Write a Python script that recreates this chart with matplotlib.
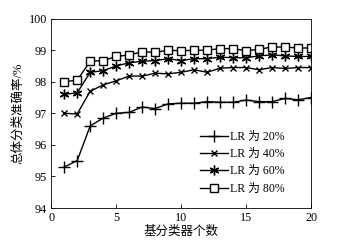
import matplotlib
matplotlib.use("Agg")
import matplotlib.pyplot as plt

plt.rcParams['font.family'] = ['Liberation Serif', 'Noto Sans CJK SC']

x = list(range(1, 21))
lr20 = [95.3, 95.5, 96.6, 96.85, 97.0, 97.03, 97.2, 97.15, 97.3, 97.32,
        97.32, 97.37, 97.35, 97.35, 97.42, 97.37, 97.37, 97.47, 97.43, 97.5]
lr40 = [97.0, 96.98, 97.7, 97.9, 98.03, 98.18, 98.18, 98.27, 98.25, 98.3,
        98.38, 98.3, 98.43, 98.45, 98.45, 98.38, 98.45, 98.42, 98.45, 98.45]
lr60 = [97.6, 97.65, 98.3, 98.35, 98.5, 98.6, 98.65, 98.67, 98.73, 98.67,
        98.73, 98.73, 98.78, 98.76, 98.76, 98.82, 98.85, 98.82, 98.8, 98.8]
lr80 = [98.0, 98.05, 98.65, 98.67, 98.8, 98.85, 98.95, 98.93, 99.0, 98.98,
        99.0, 99.0, 99.05, 99.05, 98.98, 99.03, 99.1, 99.1, 99.07, 99.07]
labels = ['LR 为 20%', 'LR 为 40%', 'LR 为 60%', 'LR 为 80%']
xticks = [0, 5, 10, 15, 20]
yticks = [94, 95, 96, 97, 98, 99, 100]

fig = plt.figure(figsize=(3.37, 2.45), dpi=100)
ax = fig.add_axes([0.152, 0.151, 0.771, 0.773])

ax.plot(x, lr20, color='black', lw=1.0, marker='+', ms=8, mew=1.0, label=labels[0])
ax.plot(x, lr40, color='black', lw=1.0, marker='x', ms=5, mew=1.0, label=labels[1])
ax.plot(x, lr60, color='black', lw=1.0, marker=(6, 2, 0), ms=7, mew=1.0, label=labels[2])
ax.plot(x, lr80, color='black', lw=1.0, marker='s', ms=6, mew=1.0, mfc='white', label=labels[3])

ax.set_xlim(0, 20)
ax.set_ylim(94, 100)
ax.set_xticks(xticks)
ax.set_yticks(yticks)
ax.tick_params(direction='in', labelsize=8.7, length=3, width=0.6, pad=3)
for s in ax.spines.values():
    s.set_linewidth(0.6)
ax.set_xlabel('基分类器个数', fontsize=9, labelpad=1)
ax.set_ylabel('总体分类准确率/%', fontsize=9, labelpad=3)
ax.legend(loc='lower right', bbox_to_anchor=(0.915, 0.045), frameon=False,
          fontsize=8.5, handlelength=2.4, labelspacing=0.45, handletextpad=0.15,
          borderaxespad=0, borderpad=0.4)

fig.savefig('out.png', dpi=100)
